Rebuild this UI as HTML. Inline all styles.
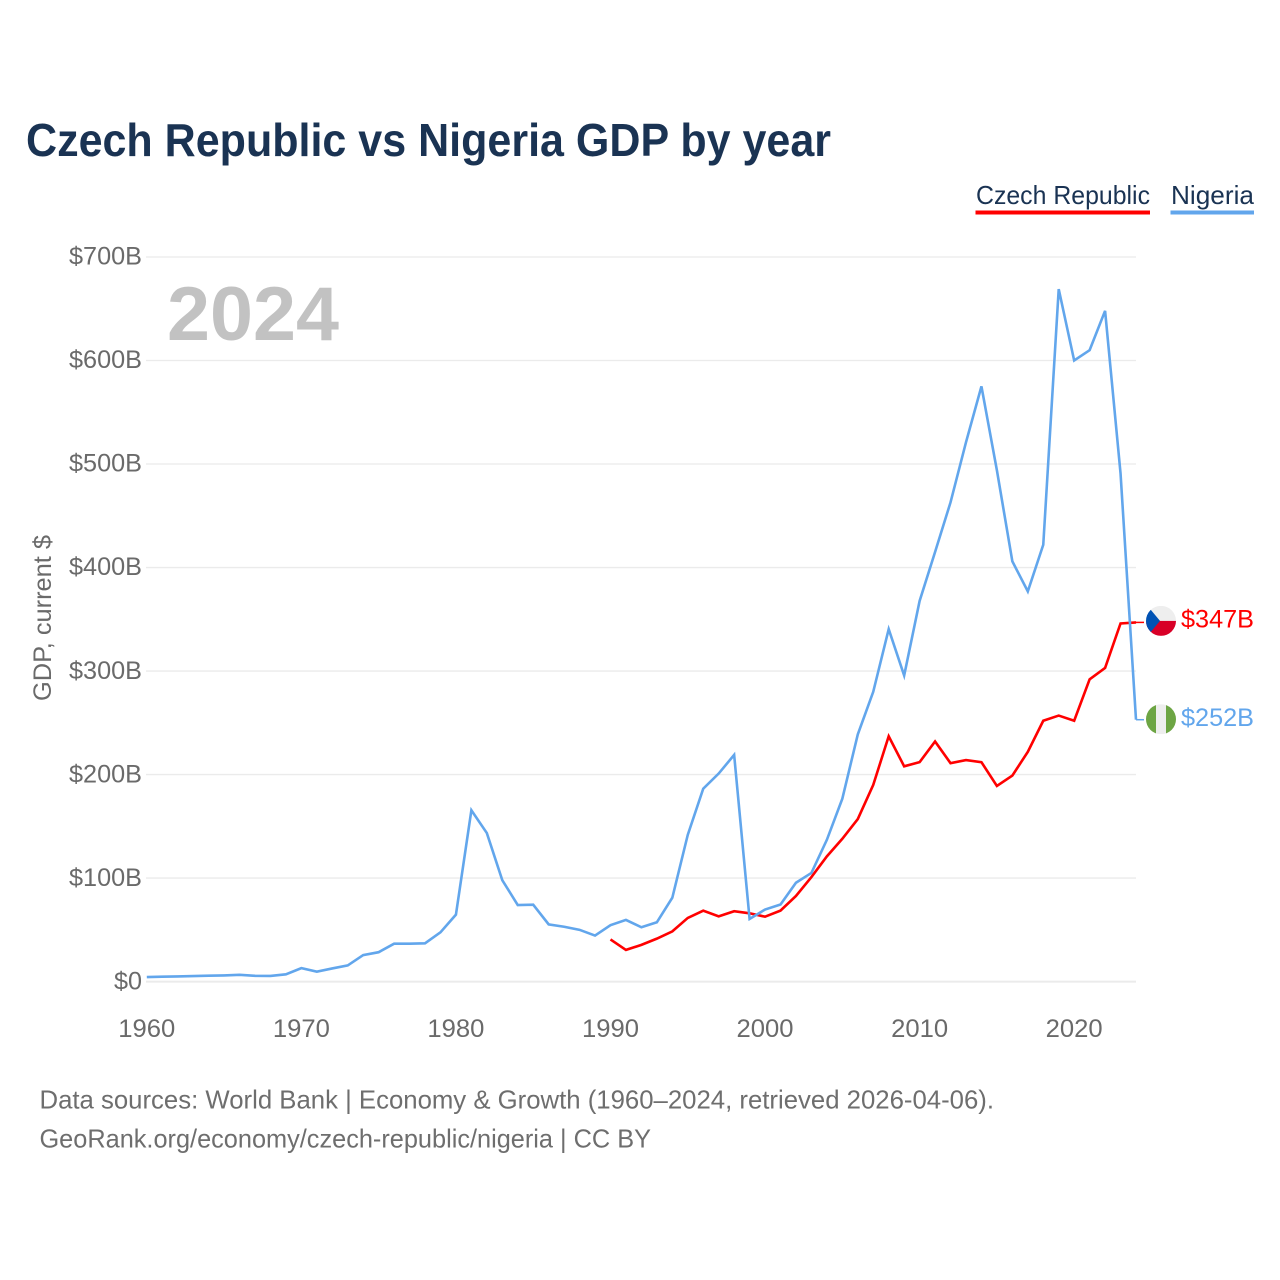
<!DOCTYPE html>
<html lang="en">
<head>
<meta charset="utf-8">
<title>Czech Republic vs Nigeria GDP by year</title>
<style>
html,body{margin:0;padding:0;background:#fff;width:1280px;height:1280px;overflow:hidden}
svg{display:block;font-family:"Liberation Sans",sans-serif}
</style>
</head>
<body>
<svg id="chart" xmlns="http://www.w3.org/2000/svg" width="1280" height="1280" viewBox="0 0 1280 1280">
  <rect x="0" y="0" width="1280" height="1280" fill="#ffffff"/>
  <text x="26" y="156" font-size="46" font-weight="700" fill="#1a3353" textLength="805" lengthAdjust="spacingAndGlyphs">Czech Republic vs Nigeria GDP by year</text>

  <g>
    <g>
      <text x="976" y="204" font-size="26" fill="#1a3353" textLength="174" lengthAdjust="spacingAndGlyphs">Czech Republic</text>
      <rect x="975.5" y="210.5" width="174.5" height="4" fill="#ff0000"/>
    </g>
    <g>
      <text x="1171" y="204" font-size="26" fill="#1a3353" textLength="83" lengthAdjust="spacingAndGlyphs">Nigeria</text>
      <rect x="1170.5" y="210.5" width="83.5" height="4" fill="#62a6ec"/>
    </g>
  </g>

  <g id="grid"></g>
  <g id="yticks"></g>
  <g id="xticks"></g>

  <text x="167" y="340" font-size="76" font-weight="700" fill="#c2c2c2" textLength="172" lengthAdjust="spacingAndGlyphs">2024</text>
  <text transform="translate(51,701) rotate(-90)" x="0" y="0" font-size="25" fill="#6a6a6a" textLength="166" lengthAdjust="spacingAndGlyphs">GDP, current $</text>

  <g id="series"></g>

  <g id="flag-cz">
    <clipPath id="clip-cz"><circle cx="0" cy="0" r="15"/></clipPath>
    <g clip-path="url(#clip-cz)">
      <rect x="-15" y="-15" width="30" height="15" fill="#eeeeee"/>
      <rect x="-15" y="0" width="30" height="15" fill="#d80027"/>
      <polygon points="-15,-15 -11,-12 -1,0 -11,12 -15,15" fill="#0052b4"/>
    </g>
  </g>
  <g id="flag-ng">
    <clipPath id="clip-ng"><circle cx="0" cy="0" r="15"/></clipPath>
    <g clip-path="url(#clip-ng)">
      <rect x="-15" y="-15" width="10" height="30" fill="#6da544"/>
      <rect x="-5" y="-15" width="10" height="30" fill="#eeeeee"/>
      <rect x="5" y="-15" width="10" height="30" fill="#6da544"/>
    </g>
  </g>
  <g id="endlabels"></g>

  <text x="39.5" y="1108.5" font-size="26" fill="#6e6e6e" textLength="954.5" lengthAdjust="spacingAndGlyphs">Data sources: World Bank | Economy &amp; Growth (1960–2024, retrieved 2026-04-06).</text>
  <a><text x="39.5" y="1147.5" font-size="26" fill="#6e6e6e" textLength="611.5" lengthAdjust="spacingAndGlyphs">GeoRank.org/economy/czech-republic/nigeria | CC BY</text></a>
</svg>

<script>
var nigeriaStartYear = 1960;
var nigeriaValues = [4.4,4.7,5,5.3,5.7,6,6.6,5.6,5.5,7,13,9.6,12.7,15.6,25.6,28.4,36.6,36.6,37,47.6,64.7,165.5,143.5,98,74,74.3,55.3,53,50,44.5,54.5,59.6,52.5,57.3,81,141.8,186.3,201,219,60.5,69.6,74.5,95.5,105,137,176.7,238.8,280,340.5,295.7,367.7,415,463,521,575,494,406,377,422,669,600,610,648,491,253];
var czechStartYear = 1990;
var czechValues = [40.7,30.6,35.5,41.5,48.5,61.5,68.5,63,68,66,62.7,68.6,82.7,101,121,138,157,190,237,208,212,232,211,214,212,189,199,222,252,257,252,292,303,346,347];
var yTickValues = [0,100,200,300,400,500,600,700];
var yTickLabels = ["$0","$100B","$200B","$300B","$400B","$500B","$600B","$700B"];
var xTickYears = [1960,1970,1980,1990,2000,2010,2020];
var czechEndLabel = "$347B";
var nigeriaEndLabel = "$252B";

var NS = "http://www.w3.org/2000/svg";
function xScale(year) { return 146.8 + (year - 1960) * (1136 - 146.8) / 64; }
function yScale(v) { return 981.6 - v * (981.6 - 257) / 700; }
function linePoints(startYear, values) {
  return values.map(function (v, i) {
    return xScale(startYear + i).toFixed(2) + "," + yScale(v).toFixed(2);
  }).join(" ");
}

var grid = document.getElementById("grid");
var yticks = document.getElementById("yticks");
yTickValues.forEach(function (v, i) {
  var ln = document.createElementNS(NS, "line");
  
  
  ln.setAttribute("x1", 146);
  ln.setAttribute("x2", 1136);
  ln.setAttribute("y1", yScale(v));
  ln.setAttribute("y2", yScale(v));
  ln.setAttribute("stroke", "#ebebeb");
  ln.setAttribute("stroke-width", v === 0 ? 2 : 1.3);
  grid.appendChild(ln);

  var t = document.createElementNS(NS, "text");
  
  
  t.setAttribute("x", 142);
  t.setAttribute("y", yScale(v) + 7.7);
  t.setAttribute("text-anchor", "end");
  t.setAttribute("font-size", 25);
  t.setAttribute("fill", "#6a6a6a");
  t.setAttribute("textLength", v === 0 ? 28 : 73);
  t.setAttribute("lengthAdjust", "spacingAndGlyphs");
  t.textContent = yTickLabels[i];
  yticks.appendChild(t);
});

var xticks = document.getElementById("xticks");
xTickYears.forEach(function (yr) {
  var t = document.createElementNS(NS, "text");
  
  
  t.setAttribute("x", xScale(yr));
  t.setAttribute("y", 1037);
  t.setAttribute("text-anchor", "middle");
  t.setAttribute("font-size", 25);
  t.setAttribute("fill", "#6a6a6a");
  t.setAttribute("textLength", 57);
  t.setAttribute("lengthAdjust", "spacingAndGlyphs");
  t.textContent = String(yr);
  xticks.appendChild(t);
});

var series = document.getElementById("series");
var czLine = document.createElementNS(NS, "polyline");


czLine.setAttribute("points", linePoints(czechStartYear, czechValues));
czLine.setAttribute("fill", "none");
czLine.setAttribute("stroke", "#ff0000");
czLine.setAttribute("stroke-width", 2.6);
czLine.setAttribute("stroke-linejoin", "miter");
series.appendChild(czLine);

var ngLine = document.createElementNS(NS, "polyline");


ngLine.setAttribute("points", linePoints(nigeriaStartYear, nigeriaValues));
ngLine.setAttribute("fill", "none");
ngLine.setAttribute("stroke", "#62a6ec");
ngLine.setAttribute("stroke-width", 2.6);
ngLine.setAttribute("stroke-linejoin", "miter");
series.appendChild(ngLine);

var czEndY = yScale(czechValues[czechValues.length - 1]);
var ngEndY = yScale(nigeriaValues[nigeriaValues.length - 1]);

var czLead = document.createElementNS(NS, "line");


czLead.setAttribute("x1", 1136);
czLead.setAttribute("x2", 1144);
czLead.setAttribute("y1", czEndY);
czLead.setAttribute("y2", czEndY);
czLead.setAttribute("stroke", "#ff0000");
czLead.setAttribute("stroke-width", 1.5);
series.appendChild(czLead);

var ngLead = document.createElementNS(NS, "line");


ngLead.setAttribute("x1", 1136);
ngLead.setAttribute("x2", 1144);
ngLead.setAttribute("y1", ngEndY);
ngLead.setAttribute("y2", ngEndY);
ngLead.setAttribute("stroke", "#62a6ec");
ngLead.setAttribute("stroke-width", 1.5);
series.appendChild(ngLead);

document.getElementById("flag-cz").setAttribute("transform", "translate(1161," + (czEndY - 1.5).toFixed(2) + ")");
document.getElementById("flag-ng").setAttribute("transform", "translate(1161," + (ngEndY - 0.5).toFixed(2) + ")");

var endlabels = document.getElementById("endlabels");
var czText = document.createElementNS(NS, "text");


czText.setAttribute("x", 1181);
czText.setAttribute("y", czEndY + 5);
czText.setAttribute("font-size", 25);
czText.setAttribute("fill", "#ff0000");
czText.setAttribute("textLength", 73);
czText.setAttribute("lengthAdjust", "spacingAndGlyphs");
czText.textContent = czechEndLabel;
endlabels.appendChild(czText);

var ngText = document.createElementNS(NS, "text");


ngText.setAttribute("x", 1181);
ngText.setAttribute("y", ngEndY + 6.5);
ngText.setAttribute("font-size", 25);
ngText.setAttribute("fill", "#62a6ec");
ngText.setAttribute("textLength", 73);
ngText.setAttribute("lengthAdjust", "spacingAndGlyphs");
ngText.textContent = nigeriaEndLabel;
endlabels.appendChild(ngText);
</script>
</body>
</html>
